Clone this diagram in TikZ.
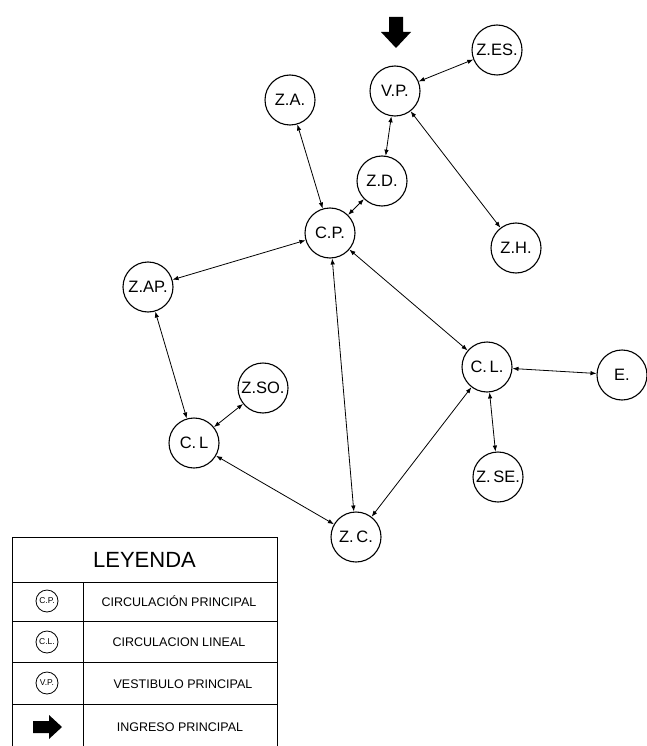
\documentclass[tikz,border=0pt]{standalone}
\usepackage{fontspec}
\setmainfont{Liberation Sans}
\usetikzlibrary{arrows.meta}
\tikzset{
  zona/.style={
    shape = circle,
    draw,
    line width = 1.1pt,
    inner sep = 0pt,
    minimum size = 50pt,
    font = \fontsize{16.5}{18}\selectfont
  },
  zonita/.style={
    shape = circle,
    draw,
    line width = 0.8pt,
    inner sep = 0pt,
    minimum size = 22pt,
    font = \fontsize{8.5}{10}\selectfont
  },
  enlace/.style={
    line width = 0.8pt,
    {Latex[length=6pt,width=4.5pt]}-{Latex[length=6pt,width=4.5pt]}
  },
  leyenda/.style={
    font = \fontsize{12.5}{14}\selectfont
  },
  every picture/.style = {
    x = 1pt,
    y = -1pt
  }
}

\begin{document}
\begin{tikzpicture}
            \useasboundingbox (0,0) rectangle (646,746);
            % zonas
            \node[zona] (vp) at (395,91) {V.P.};
            \node[zona] (zes) at (497,50) {Z.ES.};
            \node[zona] (za) at (290,100) {Z.A.};
            \node[zona] (zd) at (382,181) {Z.D.};
            \node[zona] (cp) at (330,233) {C.P.};
            \node[zona] (zh) at (516,248) {Z.H.};
            \node[zona] (zap) at (148,287) {Z.AP.};
            \node[zona] (clr) at (487,367) {C.\,L.};
            \node[zona] (e) at (622,375) {E.};
            \node[zona] (zso) at (263,388) {Z.SO.};
            \node[zona] (cll) at (194,443) {C.\,L};
            \node[zona] (zse) at (498,477) {Z.\,SE.};
            \node[zona] (zc) at (356,537) {Z.\,C.};
            % ingreso
            \fill (389,17) -- (403,17) -- (403,32) -- (411,32) -- (396,48)
              -- (381,32) -- (389,32) -- cycle;
            % relaciones
            \draw[enlace] (vp) -- (zes);
            \draw[enlace] (vp) -- (zd);
            \draw[enlace] (vp) -- (zh);
            \draw[enlace] (za) -- (cp);
            \draw[enlace] (zd) -- (cp);
            \draw[enlace] (cp) -- (zap);
            \draw[enlace] (cp) -- (clr);
            \draw[enlace] (cp) -- (zc);
            \draw[enlace] (zap) -- (cll);
            \draw[enlace] (zso) -- (cll);
            \draw[enlace] (cll) -- (zc);
            \draw[enlace] (clr) -- (zc);
            \draw[enlace] (clr) -- (e);
            \draw[enlace] (clr) -- (zse);
            % leyenda
            \draw[line width=1pt] (12,750) -- (12,537) -- (277,537) -- (277,750);
            \draw[line width=1pt] (12,582) -- (277,582);
            \draw[line width=1pt] (12,621) -- (277,621);
            \draw[line width=1pt] (12,662) -- (277,662);
            \draw[line width=1pt] (12,704) -- (277,704);
            \draw[line width=1pt] (83,582) -- (83,750);
            \node[font=\fontsize{22}{25}\selectfont] (tit) at (144.5,560) {LEYENDA};
            \node[zonita] (lcp) at (47,601) {C.P.};
            \node[zonita] (lcl) at (47,642) {C.L.};
            \node[zonita] (lvp) at (47,683) {V.P.};
            \fill (33,721) -- (49,721) -- (49,715) -- (62,727) -- (49,739)
              -- (49,733) -- (33,733) -- cycle;
            \node[leyenda] (tcp) at (179,601) {CIRCULACIÓN PRINCIPAL};
            \node[leyenda] (tcl) at (179,642) {CIRCULACION LINEAL};
            \node[leyenda] (tvp) at (183,684) {VESTIBULO PRINCIPAL};
            \node[leyenda] (tin) at (180,727) {INGRESO PRINCIPAL};
\end{tikzpicture}
\end{document}
